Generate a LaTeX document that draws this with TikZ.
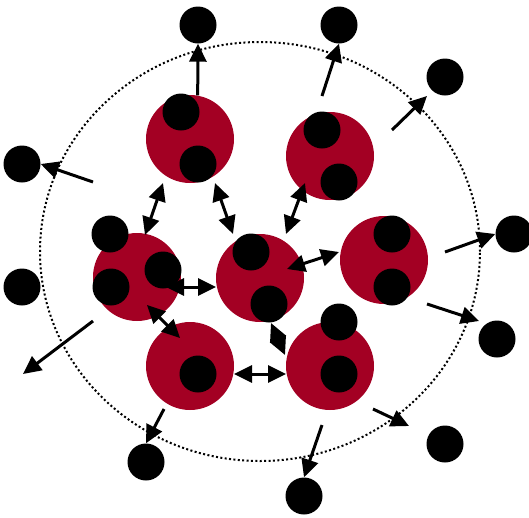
\documentclass[tikz,border=0pt]{standalone}
\usetikzlibrary{arrows.meta}
\definecolor{cellRed}{HTML}{A30023}

\begin{document}
\begin{tikzpicture}[x=1pt, y=-1pt,
    cell/.style={circle, fill=cellRed, minimum size=88pt, inner sep=0pt},
    blob/.style={circle, fill=black, minimum size=37pt, inner sep=0pt},
    escape/.style={-{Triangle[length=18pt, width=17pt]}, line width=3pt},
    exch/.style={{Triangle[length=18pt, width=17pt]}-{Triangle[length=18pt, width=17pt]}, line width=3pt},
  ]
    \useasboundingbox (0,0) rectangle (529,517);
    \draw[line width=2pt, dash pattern=on 2pt off 2.4pt]
      (260,251.5) ellipse [x radius=220pt, y radius=209.5pt];

    \node[cell] (cA) at (190,139) {};
    \node[cell] (cB) at (330,156) {};
    \node[cell] (cC) at (137,277) {};
    \node[cell] (cD) at (260,278) {};
    \node[cell] (cE) at (384,260) {};
    \node[cell] (cF) at (190,366) {};
    \node[cell] (cG) at (330,366) {};

    \node[blob] (bA1) at (181,112) {};
    \node[blob] (bA2) at (198,164) {};
    \node[blob] (bB1) at (322,130) {};
    \node[blob] (bB2) at (339,182) {};
    \node[blob] (bC1) at (110,234) {};
    \node[blob] (bC2) at (163,270) {};
    \node[blob] (bC3) at (111,287) {};
    \node[blob] (bD1) at (251,252) {};
    \node[blob] (bD2) at (269,304) {};
    \node[blob] (bE1) at (392,234) {};
    \node[blob] (bE2) at (392,287) {};
    \node[blob] (bF1) at (198,374) {};
    \node[blob] (bG1) at (339,322) {};
    \node[blob] (bG2) at (339,374) {};

    \node[blob] (o1)  at (198,25)  {};
    \node[blob] (o2)  at (339,25)  {};
    \node[blob] (o3)  at (445,77)  {};
    \node[blob] (o4)  at (22,164)  {};
    \node[blob] (o5)  at (514,234) {};
    \node[blob] (o6)  at (22,287)  {};
    \node[blob] (o7)  at (497,339) {};
    \node[blob] (o8)  at (146,462) {};
    \node[blob] (o9)  at (445,444) {};
    \node[blob] (o10) at (304,496) {};

    \coordinate (t2)  at (322,96);
    \coordinate (t3)  at (392,130);
    \coordinate (h3)  at (427,96);
    \coordinate (t4)  at (93,182);
    \coordinate (t5)  at (445,252);
    \coordinate (t6)  at (93,321);
    \coordinate (h6)  at (23,374);
    \coordinate (t7)  at (427,304);
    \coordinate (h7)  at (479,321);
    \coordinate (t8)  at (164,409);
    \coordinate (t9)  at (373,409);
    \coordinate (h9)  at (409,426);
    \coordinate (t10) at (322,425);

    \draw[escape] (cA.80) -- (o1.south);
    \draw[escape] (t2) -- (o2.south);
    \draw[escape] (t3) -- (h3);
    \draw[escape] (t4) -- (o4.east);
    \draw[escape] (t5) -- (o5.west);
    \draw[escape] (t6) -- (h6);
    \draw[escape] (t7) -- (h7);
    \draw[escape] (t8) -- (o8.north);
    \draw[escape] (t9) -- (h9);
    \draw[escape] (t10) -- (o10.north);

    \coordinate (ac1) at (163,183);
    \coordinate (ac2) at (145,235);
    \coordinate (ad1) at (215,183);
    \coordinate (ad2) at (233,234);
    \coordinate (bd1) at (305,183);
    \coordinate (bd2) at (286,234);
    \coordinate (de1) at (287,269);
    \coordinate (de2) at (339,252);
    \coordinate (cd1) at (166,287);
    \coordinate (cd2) at (216,287);
    \coordinate (cf1) at (147,305);
    \coordinate (cf2) at (180,338);
    \coordinate (fg1) at (234,374);
    \coordinate (fg2) at (286,374);
    \coordinate (dg1) at (271,323);
    \coordinate (dg2) at (285,355);

    \draw[exch] (ac1) -- (ac2);
    \draw[exch] (ad1) -- (ad2);
    \draw[exch] (bd1) -- (bd2);
    \draw[exch] (de1) -- (de2);
    \draw[exch] (cd1) -- (cd2);
    \draw[exch] (cf1) -- (cf2);
    \draw[exch] (fg1) -- (fg2);
    \draw[exch] (dg1) -- (dg2);
  \end{tikzpicture}
\end{document}
